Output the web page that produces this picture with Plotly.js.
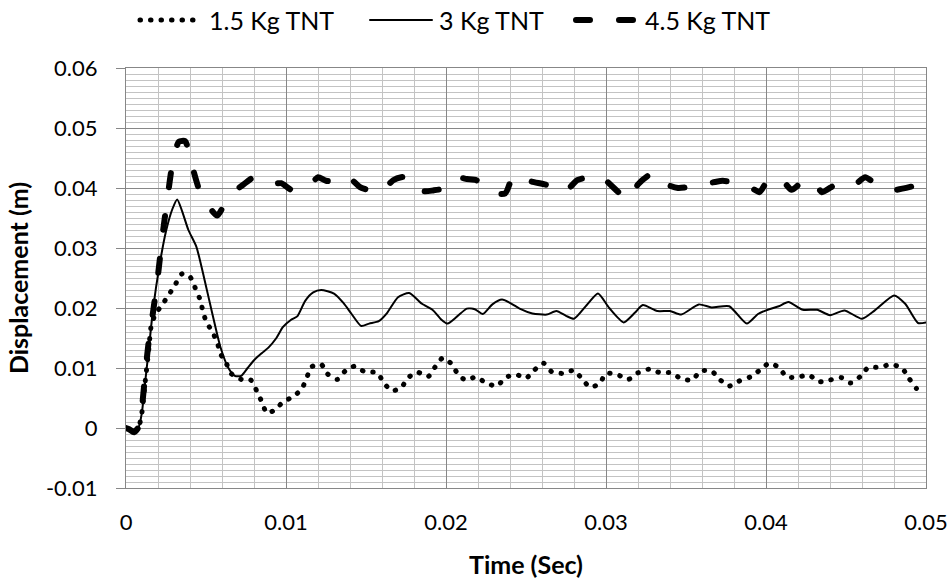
<!DOCTYPE html>
<html>
<head>
<meta charset="utf-8">
<script src="https://cdn.plot.ly/plotly-3.0.1.min.js"></script>
<style>
  html, body { margin: 0; padding: 0; background: #fff; }
  #chart { width: 951px; height: 579px; }
  .js-line { stroke-linecap: round !important; stroke-linejoin: round !important; }
</style>
</head>
<body>
<div id="chart"></div>
<script>
// ---- data ----
const seriesNames = ['1.5 Kg TNT', '3 Kg TNT', '4.5 Kg TNT'];

const t15 = [0, 0.0002, 0.0005, 0.0008, 0.001, 0.0012, 0.0014, 0.0016, 0.0019, 0.0023, 0.0027, 0.0031, 0.0035, 0.0040, 0.0043, 0.0046, 0.0048, 0.0050, 0.0054, 0.0057, 0.0059, 0.0063, 0.0066, 0.0072, 0.0078, 0.0082, 0.0085, 0.0088, 0.0093, 0.0098, 0.0105, 0.0110, 0.0113, 0.0116, 0.0122, 0.0126, 0.0132, 0.0137, 0.0143, 0.0149, 0.0157, 0.0161, 0.0166, 0.0172, 0.0176, 0.0182, 0.0189, 0.0193, 0.0198, 0.0203, 0.0207, 0.0212, 0.0219, 0.0225, 0.0232, 0.0237, 0.0244, 0.0250, 0.0255, 0.0261, 0.0266, 0.0273, 0.0280, 0.0285, 0.0290, 0.0296, 0.0300, 0.0307, 0.0314, 0.0320, 0.0327, 0.0334, 0.0341, 0.0347, 0.0354, 0.0359, 0.0366, 0.0371, 0.0377, 0.0383, 0.0390, 0.0396, 0.0402, 0.0408, 0.0413, 0.0420, 0.0427, 0.0433, 0.0440, 0.0447, 0.0453, 0.0459, 0.0464, 0.0471, 0.0478, 0.0485, 0.0489, 0.0494];
const d15 = [0, -0.0002, -0.0007, 0.0002, 0.0027, 0.0077, 0.0125, 0.0174, 0.0192, 0.0207, 0.0223, 0.0240, 0.0257, 0.0252, 0.0235, 0.0216, 0.0196, 0.0178, 0.0160, 0.0143, 0.0124, 0.0106, 0.0090, 0.0081, 0.0080, 0.0060, 0.0043, 0.0025, 0.0030, 0.0043, 0.0053, 0.0066, 0.0084, 0.0102, 0.0106, 0.0090, 0.0081, 0.0095, 0.0103, 0.0094, 0.0092, 0.0076, 0.0062, 0.0067, 0.0083, 0.0093, 0.0086, 0.0101, 0.0117, 0.0108, 0.0092, 0.0080, 0.0085, 0.0075, 0.0070, 0.0084, 0.0089, 0.0083, 0.0096, 0.0108, 0.0094, 0.0091, 0.0096, 0.0082, 0.0068, 0.0074, 0.0091, 0.0089, 0.0081, 0.0092, 0.0098, 0.0092, 0.0092, 0.0082, 0.0080, 0.0095, 0.0095, 0.0081, 0.0070, 0.0078, 0.0085, 0.0096, 0.0108, 0.0101, 0.0085, 0.0085, 0.0088, 0.0077, 0.0080, 0.0084, 0.0075, 0.0086, 0.0101, 0.0101, 0.0106, 0.0100, 0.0084, 0.0066];

const t30 = [0, 0.0002, 0.0005, 0.0008, 0.001, 0.0012, 0.0014, 0.0017, 0.0021, 0.0025, 0.0029, 0.0032, 0.0035, 0.0039, 0.0044, 0.0049, 0.0054, 0.0059, 0.0064, 0.0068, 0.0072, 0.0076, 0.0080, 0.0085, 0.0089, 0.0094, 0.0098, 0.0103, 0.0107, 0.0112, 0.0117, 0.0122, 0.0130, 0.0136, 0.0141, 0.0147, 0.0152, 0.0158, 0.0163, 0.0170, 0.0177, 0.0185, 0.0192, 0.0197, 0.0201, 0.0207, 0.0213, 0.0218, 0.0223, 0.0229, 0.0235, 0.0241, 0.0246, 0.0254, 0.0263, 0.0269, 0.0275, 0.0280, 0.0288, 0.0295, 0.0302, 0.0311, 0.0318, 0.0323, 0.0332, 0.0340, 0.0347, 0.0358, 0.0366, 0.0377, 0.0388, 0.0395, 0.0402, 0.0408, 0.0414, 0.0423, 0.0432, 0.0440, 0.0449, 0.0460, 0.0468, 0.0480, 0.0487, 0.0495, 0.0500];
const d30 = [0, -0.0002, -0.0007, 0.0002, 0.0027, 0.0077, 0.0125, 0.0200, 0.0272, 0.0328, 0.0365, 0.0381, 0.0362, 0.0330, 0.0302, 0.0248, 0.0190, 0.0135, 0.0100, 0.0087, 0.0087, 0.0100, 0.0113, 0.0125, 0.0134, 0.0150, 0.0168, 0.0180, 0.0186, 0.0212, 0.0226, 0.0230, 0.0224, 0.0208, 0.0190, 0.0170, 0.0174, 0.0178, 0.0191, 0.0218, 0.0225, 0.0207, 0.0196, 0.0181, 0.0174, 0.0186, 0.0199, 0.0198, 0.0190, 0.0206, 0.0214, 0.0207, 0.0199, 0.0191, 0.0189, 0.0195, 0.0187, 0.0182, 0.0205, 0.0224, 0.0200, 0.0176, 0.0192, 0.0205, 0.0195, 0.0195, 0.0189, 0.0206, 0.0201, 0.0203, 0.0174, 0.0190, 0.0198, 0.0203, 0.0210, 0.0197, 0.0197, 0.0188, 0.0196, 0.0182, 0.0196, 0.0221, 0.0207, 0.0175, 0.0176];

const t45 = [0, 0.0002, 0.0005, 0.0008, 0.001, 0.0012, 0.0014, 0.0017, 0.0020, 0.0023, 0.0026, 0.0029, 0.0033, 0.0037, 0.0041, 0.0046, 0.0051, 0.0057, 0.0063, 0.0068, 0.0073, 0.0080, 0.0086, 0.0092, 0.0097, 0.0104, 0.0110, 0.0115, 0.0120, 0.0125, 0.0131, 0.0138, 0.0146, 0.0152, 0.0159, 0.0167, 0.0172, 0.0179, 0.0186, 0.0192, 0.0198, 0.0206, 0.0213, 0.0219, 0.0228, 0.0237, 0.0242, 0.0247, 0.0253, 0.0263, 0.0268, 0.0274, 0.0282, 0.0289, 0.0296, 0.0303, 0.0309, 0.0314, 0.0320, 0.0326, 0.0331, 0.0339, 0.0345, 0.0350, 0.0362, 0.0368, 0.0373, 0.0385, 0.0391, 0.0396, 0.0402, 0.0410, 0.0416, 0.0424, 0.0430, 0.0435, 0.0445, 0.0455, 0.0462, 0.0468, 0.0474, 0.0481, 0.0492, 0.0495];
const d45 = [0, -0.0002, -0.0007, 0.0002, 0.0035, 0.0090, 0.0140, 0.0195, 0.0255, 0.0325, 0.0385, 0.0440, 0.0477, 0.0478, 0.0440, 0.0395, 0.0372, 0.0354, 0.0380, 0.0395, 0.0405, 0.0418, 0.0413, 0.0407, 0.0408, 0.0396, 0.0400, 0.0405, 0.0418, 0.0412, 0.0412, 0.0420, 0.0402, 0.0396, 0.0393, 0.0413, 0.0418, 0.0418, 0.0395, 0.0396, 0.0399, 0.0418, 0.0415, 0.0413, 0.0393, 0.0391, 0.0420, 0.0418, 0.0411, 0.0405, 0.0398, 0.0393, 0.0413, 0.0418, 0.0421, 0.0405, 0.0390, 0.0381, 0.0406, 0.0420, 0.0425, 0.0405, 0.0400, 0.0401, 0.0407, 0.0410, 0.0412, 0.0406, 0.0400, 0.0393, 0.0416, 0.0413, 0.0397, 0.0413, 0.0410, 0.0393, 0.0408, 0.0405, 0.0418, 0.0408, 0.0402, 0.0397, 0.0403, 0.0405];

const xTickVals = [0, 0.01, 0.02, 0.03, 0.04, 0.05];
const xTickText = ['0', '0.01', '0.02', '0.03', '0.04', '0.05'];
const yTickVals = [-0.01, 0, 0.01, 0.02, 0.03, 0.04, 0.05, 0.06];
const yTickText = ['-0.01', '0', '0.01', '0.02', '0.03', '0.04', '0.05', '0.06'];

// minor grid positions (every 0.002 s on x, every 0.001 m on y)
const xMinor = [];
for (let i = 0; i <= 25; i++) xMinor.push(+(i * 0.002).toFixed(4));
const yMinor = [];
for (let i = -10; i <= 60; i++) yMinor.push(+(i * 0.001).toFixed(4));

// ---- styling ----
const FONT = 'Lato, "Open Sans", sans-serif';
const MAJOR = '#878787';
const MINOR = '#c3c3c3';

const traces = [
  { x: t15, y: d15, name: seriesNames[0], type: 'scatter', mode: 'lines',
    line: { color: '#000', width: 5, dash: '0.5px,10px', shape: 'spline', smoothing: 0.6 },
    legendwidth: 151 },
  { x: t30, y: d30, name: seriesNames[1], type: 'scatter', mode: 'lines',
    line: { color: '#000', width: 2, shape: 'spline', smoothing: 0.6 },
    legendwidth: 127 },
  { x: t45, y: d45, name: seriesNames[2], type: 'scatter', mode: 'lines',
    line: { color: '#000', width: 6, dash: '14px,29px', shape: 'spline', smoothing: 0.6 },
    legendwidth: 130 }
];

const layout = {
  width: 951, height: 579,
  margin: { l: 126, r: 25, t: 68, b: 91, pad: 0, autoexpand: false },
  paper_bgcolor: '#fff', plot_bgcolor: '#fff',
  font: { family: FONT, size: 22, color: '#000' },
  showlegend: true,
  legend: {
    orientation: 'h', x: 0.01125, xanchor: 'left',
    yref: 'container', y: 0.965, yanchor: 'middle',
    font: { family: FONT, size: 25, color: '#000' },
    itemwidth: 64, bgcolor: 'rgba(0,0,0,0)', borderwidth: 0,
    traceorder: 'normal'
  },
  xaxis: {
    range: [0, 0.05], autorange: false,
    tickmode: 'array', tickvals: xTickVals, ticktext: xTickText,
    ticks: '', showgrid: true, gridcolor: MAJOR, gridwidth: 1,
    zeroline: false, showline: true, linecolor: MAJOR, linewidth: 1, mirror: true,
    tickfont: { family: FONT, size: 22, color: '#000' },
    ticklabelstandoff: 15,
    minor: { tickmode: 'array', tickvals: xMinor, showgrid: true, gridcolor: MINOR, gridwidth: 1, ticks: '' },
    title: { text: 'Time (Sec)', font: { family: FONT, size: 25, color: '#000', weight: 'bold' }, standoff: 22 }
  },
  yaxis: {
    range: [-0.01, 0.06], autorange: false,
    tickmode: 'array', tickvals: yTickVals, ticktext: yTickText,
    ticks: 'outside', ticklen: 9, tickwidth: 1, tickcolor: MAJOR,
    showgrid: true, gridcolor: MAJOR, gridwidth: 1,
    zeroline: false, showline: true, linecolor: MAJOR, linewidth: 1, mirror: true,
    tickfont: { family: FONT, size: 22, color: '#000' },
    ticklabelstandoff: 14,
    minor: { tickmode: 'array', tickvals: yMinor, showgrid: true, gridcolor: MINOR, gridwidth: 1, ticks: '' },
    title: { text: 'Displacement (m)', font: { family: FONT, size: 25, color: '#000', weight: 'bold' }, standoff: 10 }
  }
};

Plotly.newPlot('chart', traces, layout, { staticPlot: true, displayModeBar: false }).then(function () {
  document.querySelectorAll('.legendlines path').forEach(function (p) {
    p.setAttribute('d', 'M5,0h62');
  });
});
</script>
</body>
</html>
